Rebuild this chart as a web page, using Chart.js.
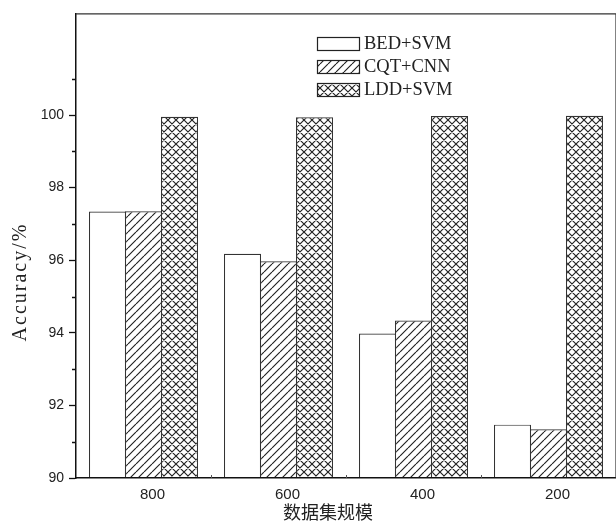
<!DOCTYPE html>
<html>
<head>
<meta charset="utf-8">
<script src="https://cdn.jsdelivr.net/npm/chart.js@4"></script>
<style>
  html, body { margin: 0; padding: 0; background: #fff; }
</style>
</head>
<body>
<canvas id="chart" width="616" height="523"></canvas>
<script>
// Data
const categories = ['800', '600', '400', '200'];
const bedSvm = [97.34, 96.18, 93.98, 91.47];
const cqtCnn = [97.35, 95.97, 94.34, 91.34];
const lddSvm = [99.95, 99.94, 99.97, 99.98];
const yMajorTicks = [90, 92, 94, 96, 98, 100];
const yMinorTicks = [91, 93, 95, 97, 99, 101];
const xTitle = '数据集规模';
const yTitle = 'Accuracy/%';

const canvas = document.getElementById('chart');
const ctx = canvas.getContext('2d');

// Hatch fills: 'slash' = diagonal lines, 'cross' = diamond grid
function makePattern(kind) {
  const s = 8;
  const tile = document.createElement('canvas');
  tile.width = s;
  tile.height = s;
  const g = tile.getContext('2d');
  g.fillStyle = '#fff';
  g.fillRect(0, 0, s, s);
  g.strokeStyle = '#222';
  g.lineWidth = 1.15;
  g.beginPath();
  for (const k of [-s, 0, s]) {
    g.moveTo(k, s); g.lineTo(k + s, 0);
    if (kind === 'cross') { g.moveTo(k, 0); g.lineTo(k + s, s); }
  }
  g.stroke();
  return ctx.createPattern(tile, 'repeat');
}

// Top/right frame, minor y ticks, category separators and axis titles
const frameTicks = {
  id: 'frameTicks',
  afterDraw(chart) {
    const { ctx: c, chartArea: a, scales: { x, y } } = chart;
    c.save();
    c.strokeStyle = '#333';
    c.lineWidth = 1.2;
    c.beginPath();
    c.moveTo(a.left, a.top + 0.5);
    c.lineTo(a.right, a.top + 0.5);
    c.lineTo(a.right, a.bottom);
    c.stroke();

    c.strokeStyle = '#111';
    c.lineWidth = 1.3;
    c.beginPath();
    yMinorTicks.forEach(v => {
      const py = Math.round(y.getPixelForValue(v)) + 0.5;
      c.moveTo(a.left - 4, py);
      c.lineTo(a.left, py);
    });
    c.stroke();

    c.strokeStyle = '#555';
    c.lineWidth = 1;
    c.beginPath();
    for (let i = 0; i < categories.length - 1; i++) {
      const px = Math.round((x.getPixelForValue(i) + x.getPixelForValue(i + 1)) / 2) + 0.5;
      c.moveTo(px, a.bottom);
      c.lineTo(px, a.bottom - 3);
    }
    c.stroke();

    // axis titles (off-centre in the original)
    c.fillStyle = '#222';
    c.textAlign = 'center';
    c.textBaseline = 'middle';
    c.font = '18px "Noto Sans CJK SC", sans-serif';
    c.fillText(xTitle, 328, 512);

    c.translate(21, 282);
    c.rotate(-Math.PI / 2);
    c.font = '20px "Liberation Serif", "Times New Roman", serif';
    c.letterSpacing = '2px';
    c.fillText(yTitle, 0, 0);
    c.restore();
  }
};

// Legend drawn inside the plot, like the original
const legendBoxes = {
  id: 'legendBoxes',
  afterDraw(chart) {
    const c = chart.ctx;
    chart.data.datasets.forEach((ds, i) => {
      const top = 37 + i * 23;
      c.save();
      c.fillStyle = ds.backgroundColor;
      c.fillRect(317, top, 42, 13);
      c.strokeStyle = '#222';
      c.lineWidth = 1.2;
      c.strokeRect(317.5, top + 0.5, 42, 13);
      c.fillStyle = '#222';
      c.font = '18.5px "Liberation Serif", "Times New Roman", serif';
      c.textBaseline = 'middle';
      c.fillText(ds.label, 364, top + 7);
      c.restore();
    });
  }
};

new Chart(ctx, {
  type: 'bar',
  data: {
    labels: categories,
    datasets: [
      { label: 'BED+SVM', data: bedSvm, backgroundColor: '#fff', borderColor: '#333', borderWidth: 1.2 },
      { label: 'CQT+CNN', data: cqtCnn, backgroundColor: makePattern('slash'), borderColor: '#333', borderWidth: 1.2 },
      { label: 'LDD+SVM', data: lddSvm, backgroundColor: makePattern('cross'), borderColor: '#333', borderWidth: 1.2 }
    ]
  },
  options: {
    responsive: false,
    animation: false,
    layout: { padding: { top: 9, right: -3, bottom: 0, left: 0 } },
    datasets: { bar: { categoryPercentage: 0.8, barPercentage: 1.03 } },
    plugins: {
      legend: { display: false },
      tooltip: { enabled: false }
    },
    scales: {
      x: {
        grid: { display: false, drawTicks: false },
        border: { color: '#111', width: 1.5, z: 1 },
        ticks: {
          color: '#222',
          padding: 8,
          labelOffset: 9,
          font: { family: '"Liberation Sans", Arial, sans-serif', size: 15 }
        },
        afterFit(scale) { scale.height = 45; }
      },
      y: {
        min: 90,
        max: 102.8,
        afterBuildTicks(scale) { scale.ticks = yMajorTicks.map(v => ({ value: v })); },
        grid: { drawOnChartArea: false, drawTicks: true, tickLength: 7, tickColor: '#111', tickWidth: 1.3 },
        border: { color: '#111', width: 1.5, z: 1 },
        ticks: {
          color: '#222',
          padding: 5,
          font: { family: '"Liberation Sans", Arial, sans-serif', size: 14 }
        },
        afterFit(scale) { scale.width = 76; }
      }
    }
  },
  plugins: [frameTicks, legendBoxes]
});
</script>
</body>
</html>
